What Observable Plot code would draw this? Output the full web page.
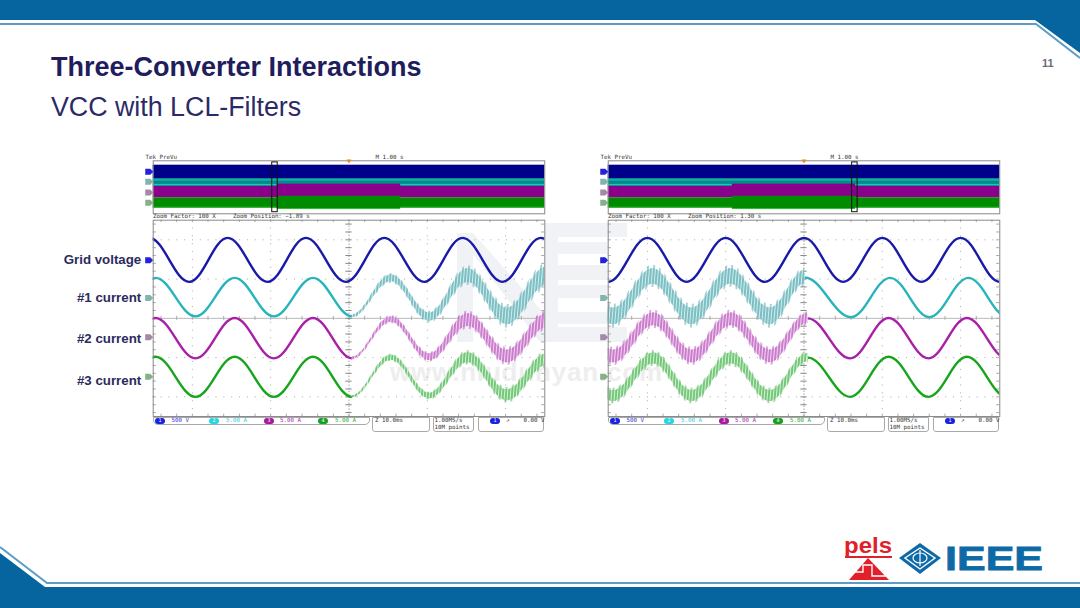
<!DOCTYPE html>
<html><head><meta charset="utf-8">
<script src="https://cdn.jsdelivr.net/npm/d3@7"></script>
<script src="https://cdn.jsdelivr.net/npm/@observablehq/plot@0.6"></script>
<style>
html,body{margin:0;padding:0;background:#fff}
#slide{position:relative;width:1080px;height:608px;overflow:hidden;background:#fff;font-family:"Liberation Sans",Arial,sans-serif}
#slide>*{position:absolute}
.t{white-space:pre;line-height:1}
.st{font-family:"DejaVu Sans Mono",monospace;font-size:5.8px;color:#333;white-space:pre;line-height:1;position:absolute}
.box{position:absolute;box-sizing:border-box;border:1px solid #aaa;background:#fff}
.chip{position:absolute;width:10px;height:5.5px;border-radius:3px;color:#fff;font:5px "DejaVu Sans Mono",monospace;text-align:center;line-height:5.5px}
</style></head>
<body><div id="slide"></div>
<script>
// ---------- waveform data (time in ms, level in screen divisions) ----------
const leftVoltTime  = [-0.5,4.6,9.5,14.6,19.5,24.6,29.5,34.6,39.5,44.6,49.5,54.6];
const leftVoltLevel = [2.05,0.93,2.05,0.93,2.05,0.93,2.05,0.93,2.05,0.93,2.05,0.93];
const leftCurTime   = [-4.6,0.3,5.4,10.4,15.4,20.4,25.4,30.4,35.3,40.2,45.2,50.3,55];
const leftCyan      = [0.05,1.03,0.05,1.03,0.05,1.03,0.05,1.02,0.03,1.09,0.05,1.08,0.05];
const leftMagenta   = [-1.02,0.01,-1.02,0.01,-1.02,0.01,-1.02,-0.03,-0.99,-0.04,-0.97,-0.06,-1];
const leftGreen     = [-2,-0.98,-2,-0.98,-2,-0.98,-2,-1,-1.98,-1,-1.96,-1.05,-2];
const leftCyanRipple    = [0,0,0,0,0,0,0.1,0.25,0.3,0.5,0.6,0.66,0.66];
const leftMagentaRipple = [0,0,0,0,0,0,0.08,0.2,0.25,0.46,0.46,0.5,0.5];
const leftGreenRipple   = [0,0,0,0,0,0,0.07,0.18,0.2,0.36,0.4,0.42,0.42];

const rightVoltTime  = [0,5,10,15,20,25,30,35,40,45,50];
const rightVoltLevel = [0.93,2.05,0.93,2.05,0.93,2.05,0.93,2.05,0.93,2.05,0.93];
const rightCyanTime  = [-4.3,0.7,5.7,10.7,15.6,20.7,25.1,31,36,41,46,51];
const rightCyan      = [1.07,0.05,1.07,0.05,1.07,0.05,1.04,0.03,1.03,0.03,1.03,0.03];
const rightCyanRipple= [0.56,0.6,0.56,0.6,0.56,0.6,0.46,0,0,0,0,0];
const rightMixTime   = [-4.3,0.7,5.8,10.7,15.7,20.7,25.5,30.9,35.8,40.9,45.8,50.9];
const rightMagenta   = [-0.02,-0.97,-0.02,-0.97,-0.02,-0.97,0,-1.02,0.01,-1.02,0.01,-1.02];
const rightMagentaRipple=[0.46,0.46,0.46,0.46,0.46,0.46,0.34,0,0,0,0,0];
const rightGreen     = [-1.02,-1.98,-1.02,-1.98,-1.02,-1.98,-1,-2,-0.98,-2,-0.98,-2];
const rightGreenRipple=[0.4,0.4,0.4,0.4,0.4,0.4,0.3,0,0,0,0,0];

// channel tags and labels (level in divisions)
const tagChannel = ["volt","cyan","magenta","green"];
const tagLevel   = [1.48,0.52,-0.48,-1.49];
const labelText  = ["Grid voltage","#1 current","#2 current","#3 current"];
const labelLevel = [1.5,0.53,-0.53,-1.58];

// overview strip: channel, start s, end s, top %, bottom %
const bandChannel = ["volt","cyan","cyanHi","cyanHi","magenta","green","greenHi"];
const bandTop     = [8.3,33.4,36,44.5,48.5,69.8,88];
const bandBottom  = [33.4,48.5,38,47,69.8,88,90];
const stepChannel = ["cyan","cyanHi","magenta","green","greenHi"];
const stepTop     = [33.4,36,44,67,90];
const stepBottom  = [44,38,67,90,92];
const stepStart   = -1.83, stepEnd = 1.32;
const overviewTagLevel = [20.5,39.5,60,79];

const panels = [
 {offset:0, win:-1.89, zoomPos:"Zoom Position: \u22121.89 s", labels:true,
  traces:[[leftVoltTime,leftVoltLevel,null,"volt"],[leftCurTime,leftCyan,leftCyanRipple,"cyan"],[leftCurTime,leftMagenta,leftMagentaRipple,"magenta"],[leftCurTime,leftGreen,leftGreenRipple,"green"]]},
 {offset:455, win:1.30, zoomPos:"Zoom Position: 1.30 s", labels:false,
  traces:[[rightVoltTime,rightVoltLevel,null,"volt"],[rightCyanTime,rightCyan,rightCyanRipple,"cyan"],[rightMixTime,rightMagenta,rightMagentaRipple,"magenta"],[rightMixTime,rightGreen,rightGreenRipple,"green"]]}
];

// ---------- style ----------
const ink  = {volt:"#1a1aa8",cyan:"#27b4ba",magenta:"#a81fa8",green:"#16a51c"};
const pale = {cyan:"#cdeeee",magenta:"#f3d2f3",green:"#cff3cf"};
const hatch= {cyan:"#2f8f98",magenta:"#a02aa6",green:"#1e9a2a"};
const bandFill={volt:"#00008b",cyan:"#008b8b",cyanHi:"#2fbcbc",magenta:"#8b008b",green:"#008b00",greenHi:"#33bb33"};
const tagFill={volt:"#2222dd",cyan:"#7fb5ac",magenta:"#a588a5",green:"#86b088"};
const scopeLeft=152.7, scopeW=391.6;
const innerShare=0.72; // the dense part of a ripple band, spikes reach the full band
const slide=document.getElementById("slide");

// S-shaped segment between extrema: flat tangent at each listed turning point
function turningCurve(ctx){let x0,y0,on,area=0,second=0;return{
  areaStart(){area=1;second=0},areaEnd(){ctx.closePath();area=0},
  lineStart(){on=0},lineEnd(){second=1},
  point(x,y){if(!on){if(area&&second)ctx.lineTo(x,y);else ctx.moveTo(x,y);on=1}
    else{const k=(x-x0)*0.3642;ctx.bezierCurveTo(x0+k,y0,x-k,y,x,y)}x0=x;y0=y}}}
const tagSymbol={draw(c){c.moveTo(-4,-3);c.lineTo(1,-3);c.lineTo(4,0);c.lineTo(1,3);c.lineTo(-4,3);c.closePath()}};

function runs(time,level,ripple){ // consecutive segments of the same kind (clean or rippled) form one run
  const out=[];let cur=null;
  for(let i=0;i<time.length-1;i++){
    const rough=!!(ripple&&ripple[i]>0&&ripple[i+1]>0);
    const row=j=>{const r=ripple?ripple[j]:0;return{t:time[j],v:level[j],lo:level[j]-r/2,hi:level[j]+r/2,
      innerLo:level[j]-r*innerShare/2,innerHi:level[j]+r*innerShare/2}};
    if(!cur||cur.rough!==rough){cur={rough,pts:[row(i)]};out.push(cur)}
    cur.pts.push(row(i+1))}
  return out;
}
function place(svg,left,top){svg.style.position="absolute";svg.style.left=left+"px";svg.style.top=top+"px";slide.appendChild(svg)}

function mainScope(p){
  const marks=[];
  const grid=[5,15,35,45], rows=[-2,-1,1,2];
  marks.push(Plot.ruleX(grid,{stroke:"#a8a8a8",strokeDasharray:"1 6.85",strokeWidth:1}));
  marks.push(Plot.ruleY(rows,{stroke:"#a8a8a8",strokeDasharray:"1 6.85",strokeWidth:1}));
  marks.push(Plot.ruleY([0],{stroke:"#b8b8b8",strokeWidth:1}));
  marks.push(Plot.ruleX([25],{stroke:"#777",strokeDasharray:"1 2",strokeWidth:1}));
  const minor=d3.range(1,50,2), minorY=d3.range(-2.4,2.5,0.2);
  marks.push(Plot.ruleX(minor,{y1:2.44,y2:2.5,stroke:"#aaa"}));
  marks.push(Plot.ruleX(minor,{y1:-2.5,y2:-2.44,stroke:"#aaa"}));
  marks.push(Plot.ruleX(minor,{y1:-0.05,y2:0.05,stroke:"#aaa"}));
  marks.push(Plot.ruleY(minorY,{x1:0,x2:0.4,stroke:"#aaa"}));
  marks.push(Plot.ruleY(minorY,{x1:49.6,x2:50,stroke:"#aaa"}));
  marks.push(Plot.ruleY(minorY,{x1:24.6,x2:25.4,stroke:"#888"}));
  for(const [time,level,ripple,ch] of p.traces){
    for(const run of runs(time,level,ripple)){
      const opt={x:"t",curve:turningCurve,clip:true};
      if(run.rough){
        marks.push(Plot.areaY(run.pts,{...opt,y1:"lo",y2:"hi",fill:`url(#spike-${ch})`}));
        marks.push(Plot.areaY(run.pts,{...opt,y1:"innerLo",y2:"innerHi",fill:`url(#ripple-${ch})`}));
      } else {
        marks.push(Plot.line(run.pts,{...opt,y:"v",stroke:ink[ch],strokeWidth:2.4,strokeLinecap:"butt"}));
      }
    }
  }
  const tags=tagChannel.map((c,i)=>({c,v:tagLevel[i]}));
  marks.push(Plot.dot(tags,{x:()=>0,y:"v",dx:-4,symbol:()=>tagSymbol,fill:d=>tagFill[d.c],stroke:"none",r:4}));
  if(p.labels){
    const labs=labelText.map((s,i)=>({s,v:labelLevel[i]}));
    marks.push(Plot.text(labs,{x:()=>0,y:"v",text:"s",dx:-12,textAnchor:"end",fontSize:13.3,fontWeight:700,fill:"#2b2b5e",fontFamily:"Liberation Sans"}));
  }
  marks.push(Plot.frame({stroke:"#8a8a8a"}));
  const svg=Plot.plot({width:scopeLeft+scopeW+8,height:226,marginLeft:scopeLeft,marginRight:8,marginTop:19.7,marginBottom:10,
    x:{domain:[0,50],axis:null},y:{domain:[-2.5,2.5],axis:null},symbol:{type:"identity"},
    style:{background:"transparent",overflow:"visible"},marks});
  place(svg,p.offset,200);
}

function overview(p){
  const base=bandChannel.map((c,i)=>({c,t1:-5,t2:5,y1:bandTop[i],y2:bandBottom[i]}));
  const step=stepChannel.map((c,i)=>({c,t1:stepStart,t2:stepEnd,y1:stepTop[i],y2:stepBottom[i]}));
  const rectOpt={x1:"t1",x2:"t2",y1:"y1",y2:"y2",fill:d=>bandFill[d.c]};
  const tags=tagChannel.map((c,i)=>({c,v:overviewTagLevel[i]}));
  const svg=Plot.plot({width:scopeLeft+scopeW+8,height:70,marginLeft:scopeLeft,marginRight:8,marginTop:10.3,marginBottom:6.7,
    x:{domain:[-5,5],axis:null},y:{domain:[100,0],axis:null},
    style:{background:"transparent",overflow:"visible"},symbol:{type:"identity"},
    marks:[
      Plot.rectY(base,rectOpt),
      Plot.rectY(step,rectOpt),
      Plot.frame({stroke:"#8a8a8a"}),
      Plot.rect([{t1:p.win-0.07,t2:p.win+0.07}],{x1:"t1",x2:"t2",y1:()=>3,y2:()=>97,fill:"none",stroke:"#111",strokeWidth:1}),
      Plot.dot([0],{x:d=>d,y:()=>0,symbol:"triangle",r:1.8,fill:"#e08a20",rotate:180,stroke:"none"}),
      Plot.dot(tags,{x:()=>-5,y:"v",dx:-4,symbol:()=>tagSymbol,fill:d=>tagFill[d.c],stroke:"none",r:4})
    ]});
  place(svg,p.offset,150);
}

function statusText(o,x,y,s,color,extra){const e=document.createElement("div");e.className="st";e.textContent=s;
  e.style.left=(x+o)+"px";e.style.top=y+"px";if(color)e.style.color=color;if(extra)Object.assign(e.style,extra);slide.appendChild(e)}
function statusBox(o,x,y,w,h,rad){const e=document.createElement("div");e.className="box";
  Object.assign(e.style,{left:(x+o)+"px",top:y+"px",width:w+"px",height:h+"px",borderRadius:rad});slide.appendChild(e)}
function chip(o,x,y,s,c){const e=document.createElement("div");e.className="chip";e.textContent=s;
  Object.assign(e.style,{left:(x+o)+"px",top:y+"px",background:c});slide.appendChild(e)}

function status(p){
  const o=p.offset;
  statusText(o,145.5,155.2,"Tek PreVu");
  statusText(o,375.5,155.2,"M 1.00 s");
  statusText(o,153,213.6,"Zoom Factor: 100 X");
  statusText(o,233,213.6,p.zoomPos);
  statusBox(o,152.7,416.5,217.5,8.8,"0 0 5px 5px");
  statusBox(o,372.2,416.5,58,15,"0 0 3px 3px");
  statusBox(o,433,416.5,41,15,"0 0 3px 3px");
  statusBox(o,477.7,416.5,66.6,15,"0 0 3px 3px");
  chip(o,155,418,"1","#1a22e0"); statusText(o,171.5,418,"500 V","#3a3ae0");
  chip(o,209,418,"2","#25d8e0"); statusText(o,226,418,"5.00 A","#35d0d8");
  chip(o,264,418,"3","#a8189e"); statusText(o,280,418,"5.00 A","#b030b0");
  chip(o,318,418,"4","#14a020"); statusText(o,335,418,"5.00 A","#30b038");
  statusText(o,375,418,"Z 10.0ms");
  statusText(o,434.5,418,"1.00MS/s");
  statusText(o,434.5,425,"10M points");
  chip(o,490,418,"1","#1a22e0"); statusText(o,506,418,"\u2197");
  statusText(o,523.5,418,"0.00 V");
}

// ---------- slide frame, watermark, logos ----------
const frame=document.createElementNS("http://www.w3.org/2000/svg","svg");
frame.setAttribute("width",1080);frame.setAttribute("height",608);frame.style.left="0";frame.style.top="0";
const patternDefs=["cyan","magenta","green"].map(c=>`
<pattern id="ripple-${c}" patternUnits="userSpaceOnUse" width="3" height="8" patternTransform="skewX(-5)">
 <rect width="3" height="8" fill="${pale[c]}"/><rect x="0.5" width="1" height="8" fill="${hatch[c]}"/>
</pattern>
<pattern id="spike-${c}" patternUnits="userSpaceOnUse" width="6" height="8" patternTransform="skewX(-5)">
 <rect x="0.5" width="1" height="8" fill="${hatch[c]}" fill-opacity="0.8"/>
</pattern>`).join("");
frame.innerHTML=`<defs>${patternDefs}</defs>
<polygon points="0,0 1080,0 1080,53 1035,20 0,20" fill="#06659f"/>
<polyline points="0,24 1036,24 1080,58" fill="none" stroke="#5d9cc6" stroke-width="2"/>
<polygon points="0,553 45,587 1080,587 1080,608 0,608" fill="#06659f"/>
<polyline points="0,547 47,583 1080,583" fill="none" stroke="#5d9cc6" stroke-width="2"/>
<g fill="#f0f2f6">
 <polygon points="457,233 473,233 473,342 457,342"/>
 <polygon points="457,233 473,233 552,322 552,342 540,342"/>
 <rect x="545" y="223" width="13" height="118"/>
 <rect x="545" y="223" width="82" height="14"/>
 <rect x="558" y="242" width="50" height="12"/>
 <rect x="558" y="265" width="50" height="15"/>
 <rect x="558" y="285" width="50" height="13"/>
 <rect x="558" y="312" width="50" height="12"/>
 <rect x="545" y="327" width="82" height="15"/>
</g>
<text x="390" y="381" font-family="Liberation Sans" font-size="26" font-weight="700" fill="#eeeeee" textLength="272">www.niudunyan.com</text>
<g>
 <text x="844" y="553" font-family="Liberation Sans" font-size="22" font-weight="700" fill="#e2202a" textLength="48" lengthAdjust="spacingAndGlyphs">pels</text>
 <rect x="845" y="556" width="47" height="2" fill="#e2202a"/>
 <polygon points="868,558 849,580 889,580" fill="#e2202a"/>
 <polyline points="852,572 863,572 863,565 872,565 872,576 886,576" fill="none" stroke="#fff" stroke-width="1.4"/>
 <polygon points="920,543 941,558 920,574 899,558" fill="#0d6aa6"/>
 <polygon points="920,548 935,558 920,569 905,558" fill="none" stroke="#fff" stroke-width="1.4"/>
 <ellipse cx="920" cy="558" rx="7" ry="5" fill="none" stroke="#fff" stroke-width="1.2"/>
 <line x1="920" y1="550" x2="920" y2="566" stroke="#fff" stroke-width="1.2"/>
 <text x="945" y="570" font-family="Liberation Sans" font-size="34" font-weight="700" fill="#0d6aa6" stroke="#0d6aa6" stroke-width="0.8" textLength="98" lengthAdjust="spacingAndGlyphs">IEEE</text>
</g>`;
slide.appendChild(frame);

function slideText(x,y,s,st){const e=document.createElement("div");e.className="t";e.textContent=s;
  Object.assign(e.style,{left:x+"px",top:y+"px",...st});slide.appendChild(e)}
slideText(51,54,"Three-Converter Interactions",{fontSize:"27px",fontWeight:"700",color:"#211d5c"});
slideText(51,94,"VCC with LCL-Filters",{fontSize:"26.8px",color:"#2c2a66"});
slideText(1042,58,"11",{fontSize:"11px",fontWeight:"700",color:"#6b6b78"});

for(const p of panels){overview(p);mainScope(p);status(p)}
</script></body></html>
